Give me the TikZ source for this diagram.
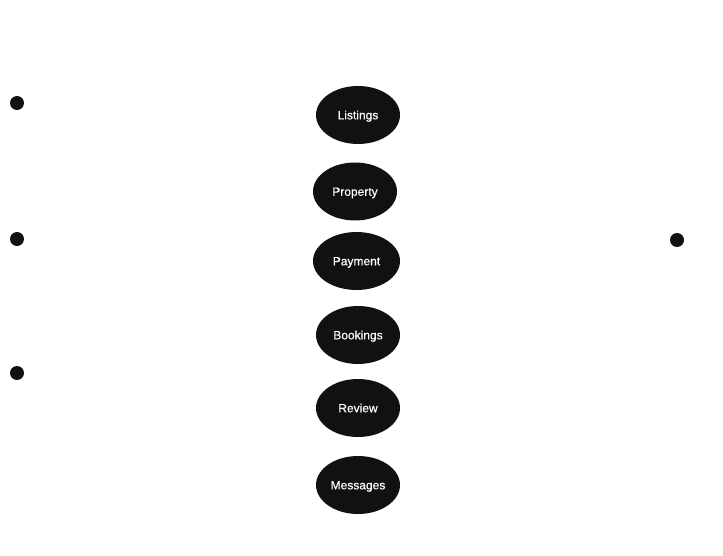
\documentclass[tikz,border=0pt]{standalone}
\usepackage{fontspec}
\setmainfont{Liberation Sans}
\newfontfamily\labelfont[FakeBold=0.4]{Liberation Sans}
\usetikzlibrary{shapes.geometric}
\definecolor{ink}{HTML}{111111}
\tikzset{
  ent/.style={ellipse, fill=ink, draw=none, minimum width=84pt, minimum height=58pt, inner sep=0pt, text=white, text height=8.6pt, text depth=0pt, font=\labelfont\fontsize{12pt}{14pt}\selectfont},
  dot/.style={circle, fill=ink, draw=none, minimum size=14pt, inner sep=0pt}
}
\begin{document}
\begin{tikzpicture}[x=1pt,y=-1pt]
\useasboundingbox (0,0) rectangle (723,556);
\node[ent] (listings) at (358,115) {Listings};
\node[ent] (property) at (355,191.5) {Property};
\node[ent, minimum width=87pt] (payment) at (356.5,261) {Payment};
\node[ent] (bookings) at (358,335) {Bookings};
\node[ent] (review) at (358,408) {Review};
\node[ent] (messages) at (358,485) {Messages};
\node[dot] (d1) at (17,103) {};
\node[dot] (d2) at (17,239) {};
\node[dot] (d3) at (17,373) {};
\node[dot] (d4) at (677,240) {};
\end{tikzpicture}
\end{document}
